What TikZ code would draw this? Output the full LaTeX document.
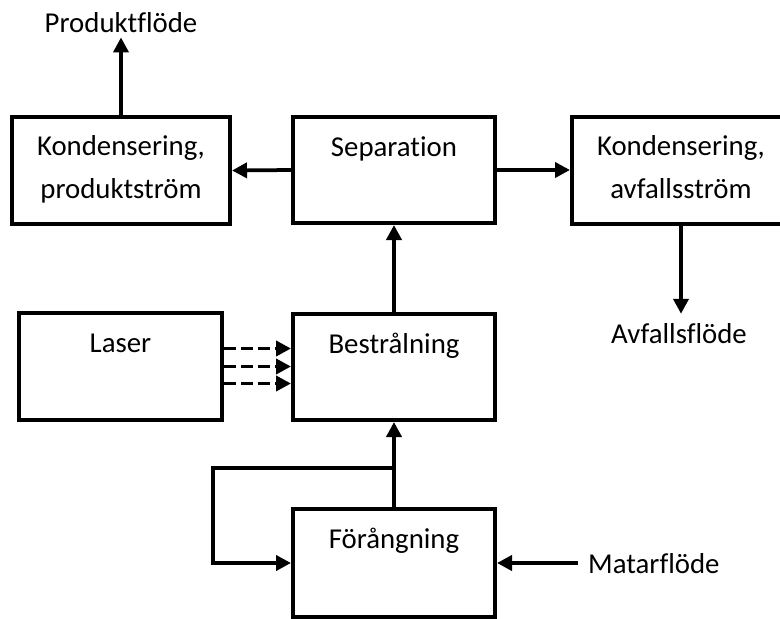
\documentclass[tikz,border=0pt]{standalone}
\usepackage{fontspec}
\setmainfont[Ligatures=NoCommon]{Carlito}
\usetikzlibrary{arrows.meta}
\begin{document}
\begin{tikzpicture}[x=1pt,y=-1pt,
  every node/.style={font=\fontsize{28.8}{43.4}\selectfont},
  procbox/.style={draw,line width=4pt,rectangle,inner sep=0pt},
  boxlabel/.style={anchor=base,yshift=-41pt,inner sep=0pt},
  twolabel/.style={anchor=base,yshift=-40pt,inner sep=0pt,text width=216pt,align=center},
  freetext/.style={anchor=base,inner sep=3pt},
  arr/.style={line width=3.75pt,-{Triangle[length=15pt,width=15pt]}},
  dasharr/.style={arr,dash pattern=on 12pt off 5pt}
]
\useasboundingbox (0,0) rectangle (780,619);

\node[procbox,minimum width=218pt,minimum height=107pt,
      label={[twolabel]north:Kondensering,\\produktström}] (kp) at (121,170.5) {};
\node[procbox,minimum width=202pt,minimum height=106pt,
      label={[boxlabel]north:Separation}] (sep) at (394,170) {};
\node[procbox,minimum width=218pt,minimum height=107pt,
      label={[twolabel]north:Kondensering,\\avfallsström}] (ka) at (681,170.5) {};
\node[procbox,minimum width=203pt,minimum height=107pt,
      label={[boxlabel]north:Laser}] (laser) at (120.5,366.5) {};
\node[procbox,minimum width=202pt,minimum height=106pt,
      label={[boxlabel]north:Bestrålning}] (bes) at (394,367) {};
\node[procbox,minimum width=202pt,minimum height=108pt,
      label={[boxlabel]north:Förångning}] (fora) at (394,563) {};

\node[freetext] (prod) at (121,32) {Produktflöde};
\node[freetext] (avf) at (679,343) {Avfallsflöde};
\node[freetext,anchor=base west] (mat) at (585,573) {Matarflöde};

\draw[arr] (kp.north) -- ([yshift=-2pt]kp.north |- prod.south);
\draw[arr] (sep.west) -- (kp.east);
\draw[arr] (sep.east) -- (sep.east -| ka.west);
\draw[arr] (ka.south) -- ([yshift=6pt]ka.south |- avf.north);
\draw[arr] (bes.north) -- (sep.south);

\foreach \s in {18,0,-17}
  \draw[dasharr] ([yshift=\s pt]laser.east) -- ([yshift=\s pt]laser.east -| bes.west);

\coordinate (branch) at (394,468);
\coordinate (loopcorner) at (213,468);
\draw[arr] (fora.north) -- (bes.south);
\draw[arr] (branch) -- (loopcorner) |- (fora.west);
\draw[arr] ([xshift=-7pt]mat.west |- fora.east) -- (fora.east);
\end{tikzpicture}
\end{document}
